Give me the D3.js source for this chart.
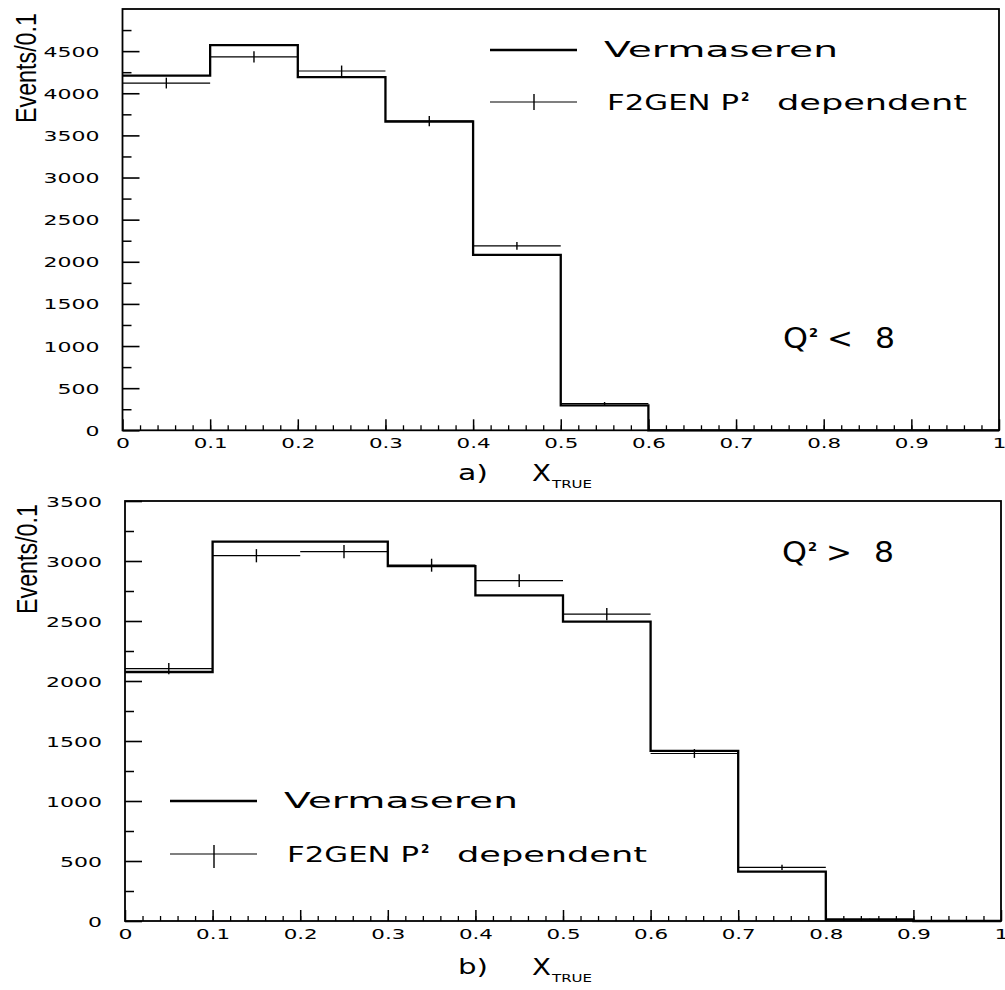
<!DOCTYPE html>
<html><head><meta charset="utf-8">
<script src="https://cdn.jsdelivr.net/npm/d3@7/dist/d3.min.js"></script>
<style>body{margin:0;background:#fff}svg{display:block}</style>
</head><body>
<svg id="chart" width="1005" height="990"></svg>
<script>
// ---------- data ----------
const binEdges = [0, 0.1, 0.2, 0.3, 0.4, 0.5, 0.6, 0.7, 0.8, 0.9, 1.0];
const xTickValues = [0, 0.1, 0.2, 0.3, 0.4, 0.5, 0.6, 0.7, 0.8, 0.9, 1.0];
const xTickLabels = ["0", "0.1", "0.2", "0.3", "0.4", "0.5", "0.6", "0.7", "0.8", "0.9", "1"];
const topYTicks = [0, 500, 1000, 1500, 2000, 2500, 3000, 3500, 4000, 4500];
const botYTicks = [0, 500, 1000, 1500, 2000, 2500, 3000, 3500];

// panel a) Q^2 < 8
const topVerm  = [4210, 4572, 4192, 3665, 2082, 295, 0, 0, 0, 0];
const topF2    = [4121, 4433, 4264, 3670, 2189, 318, 0, 0, 0, 0];
const topF2Err = [64, 67, 65, 61, 47, 18, 0, 0, 0, 0];

// panel b) Q^2 > 8
const botVerm  = [2075, 3161, 3161, 2958, 2714, 2494, 1417, 411, 12, 0];
const botF2    = [2103, 3044, 3078, 2965, 2836, 2558, 1396, 447, 15, 0];
const botF2Err = [46, 55, 55, 54, 53, 51, 37, 21, 4, 0];

const legendLabels = ["Vermaseren", "F2GEN P", "2", "dependent"];

// ---------- drawing ----------
const svg = d3.select("#chart");
const NUMFONT = "'DejaVu Sans', sans-serif";

function numLen(s) {
  let n = 0;
  for (const c of s) n += (c === ".") ? 6 : 14;
  return n;
}

function panel(cfg) {
  const g = svg.append("g");
  const x = d3.scaleLinear().domain([0, 1]).range([cfg.x0, cfg.x1]);
  const y = d3.scaleLinear().domain([0, cfg.ymax]).range([cfg.y0, cfg.y1]);

  // minor y ticks
  g.append("g").attr("transform", `translate(${cfg.x0},0)`)
    .call(d3.axisLeft(y).tickValues(d3.range(250, cfg.ymax, 500)).tickSizeInner(-9).tickSizeOuter(0).tickFormat(""))
    .call(a => a.select(".domain").remove())
    .selectAll("line").attr("stroke", "#000").attr("stroke-width", 1.5);
  // major y ticks
  g.append("g").attr("transform", `translate(${cfg.x0},0)`)
    .call(d3.axisLeft(y).tickValues(cfg.yTicks).tickSizeInner(-17).tickSizeOuter(0).tickPadding(23).tickFormat(d3.format("d")))
    .call(a => a.select(".domain").remove())
    .call(a => a.selectAll("line").attr("stroke", "#000").attr("stroke-width", 1.6))
    .call(a => a.selectAll("text")
      .attr("font-family", NUMFONT).attr("font-size", 14).attr("fill", "#000")
      .attr("dy", "0.36em")
      .attr("textLength", d => numLen(String(d)))
      .attr("lengthAdjust", "spacingAndGlyphs"));

  // minor x ticks
  g.append("g").attr("transform", `translate(0,${cfg.y0})`)
    .call(d3.axisBottom(x).tickValues(d3.range(0.02, 1, 0.02)).tickSizeInner(-5).tickSizeOuter(0).tickFormat(""))
    .call(a => a.select(".domain").remove())
    .selectAll("line").attr("stroke", "#000").attr("stroke-width", 1.3);
  // major x ticks
  g.append("g").attr("transform", `translate(0,${cfg.y0})`)
    .call(d3.axisBottom(x).tickValues(xTickValues).tickSizeInner(-11).tickSizeOuter(0).tickPadding(8)
      .tickFormat((d, i) => xTickLabels[i]))
    .call(a => a.select(".domain").remove())
    .call(a => a.selectAll("line").attr("stroke", "#000").attr("stroke-width", 1.5))
    .call(a => a.selectAll("text")
      .attr("font-family", NUMFONT).attr("font-size", 14).attr("fill", "#000")
      .attr("textLength", (d, i) => numLen(xTickLabels[i]))
      .attr("lengthAdjust", "spacingAndGlyphs"));

  // frame
  g.append("rect")
    .attr("x", cfg.x0).attr("y", cfg.y1)
    .attr("width", cfg.x1 - cfg.x0).attr("height", cfg.y0 - cfg.y1)
    .attr("fill", "none").attr("stroke", "#000").attr("stroke-width", 1.8);

  // Vermaseren histogram (thick step outline)
  const pts = [];
  cfg.verm.forEach((v, i) => { pts.push([binEdges[i], v]); pts.push([binEdges[i + 1], v]); });
  g.append("path")
    .attr("d", d3.line().x(d => x(d[0])).y(d => y(d[1]))(pts))
    .attr("fill", "none").attr("stroke", "#000").attr("stroke-width", 2.3);

  // F2GEN histogram: horizontal bars + error bars
  const bins = cfg.f2.map((v, i) => ({ lo: binEdges[i], hi: binEdges[i + 1], v, e: cfg.err[i] })).filter(d => d.v > 0);
  g.selectAll(".f2h").data(bins).join("line")
    .attr("x1", d => x(d.lo)).attr("x2", d => x(d.hi))
    .attr("y1", d => y(d.v)).attr("y2", d => y(d.v))
    .attr("stroke", "#000").attr("stroke-width", 1.2);
  g.selectAll(".f2e").data(bins.filter(d => d.e > 0)).join("line")
    .attr("x1", d => x((d.lo + d.hi) / 2)).attr("x2", d => x((d.lo + d.hi) / 2))
    .attr("y1", d => y(d.v - d.e)).attr("y2", d => y(d.v + d.e))
    .attr("stroke", "#000").attr("stroke-width", 1.4);

  // y title (condensed by a horizontal scale so its box stays inside the page)
  const yt = g.append("text")
    .attr("text-anchor", "middle")
    .attr("font-family", "'Liberation Sans Narrow', 'Liberation Sans', Arial, sans-serif")
    .attr("font-size", 29).attr("fill", "#000")
    .text("Events/0.1");
  const natural = yt.node().getComputedTextLength() || 150;
  const k = 110 / natural;
  yt.attr("transform", `translate(${cfg.ytx},${cfg.yty}) rotate(-90) scale(${k},1)`);

  // x title "a)  X_TRUE"
  const tf = NUMFONT;
  g.append("text").attr("x", 458).attr("y", cfg.xtBase).attr("font-family", tf).attr("font-size", 22)
    .attr("textLength", 30).attr("lengthAdjust", "spacingAndGlyphs").text(cfg.tag);
  g.append("text").attr("x", 532).attr("y", cfg.xtBase + 1).attr("font-family", tf).attr("font-size", 23)
    .attr("textLength", 19).attr("lengthAdjust", "spacingAndGlyphs").text("X");
  g.append("text").attr("x", 552).attr("y", cfg.xtBase + 8).attr("font-family", tf).attr("font-size", 11)
    .attr("textLength", 40).attr("lengthAdjust", "spacingAndGlyphs").text("TRUE");

  // Q^2 label
  const q = cfg.q;
  g.append("text").attr("x", q.x).attr("y", q.base).attr("font-family", tf).attr("font-size", 28)
    .attr("textLength", 25).attr("lengthAdjust", "spacingAndGlyphs").text("Q");
  g.append("text").attr("x", q.x + 26).attr("y", q.base - 11).attr("font-family", tf).attr("font-size", 13)
    .attr("font-weight", "bold").text("2");
  g.append("text").attr("x", q.x + 44).attr("y", q.base).attr("font-family", tf).attr("font-size", 28)
    .attr("textLength", 26).attr("lengthAdjust", "spacingAndGlyphs").text(q.sym);
  g.append("text").attr("x", q.x + 92).attr("y", q.base).attr("font-family", tf).attr("font-size", 28)
    .attr("textLength", 20).attr("lengthAdjust", "spacingAndGlyphs").text("8");

  // legend
  const L = cfg.leg;
  g.append("line").attr("x1", L.x).attr("x2", L.x + 87).attr("y1", L.y1).attr("y2", L.y1)
    .attr("stroke", "#000").attr("stroke-width", 2.3);
  g.append("text").attr("x", L.x + 114).attr("y", L.y1 + 7).attr("font-family", tf).attr("font-size", 22)
    .attr("textLength", 234).attr("lengthAdjust", "spacingAndGlyphs").text(legendLabels[0]);
  g.append("line").attr("x1", L.x).attr("x2", L.x + 87).attr("y1", L.y2).attr("y2", L.y2)
    .attr("stroke", "#000").attr("stroke-width", 1.2);
  g.append("line").attr("x1", L.x + 44).attr("x2", L.x + 44).attr("y1", L.y2 - L.et).attr("y2", L.y2 + L.eb)
    .attr("stroke", "#000").attr("stroke-width", 1.4);
  g.append("text").attr("x", L.x + 117).attr("y", L.y2 + 8).attr("font-family", tf).attr("font-size", 22)
    .attr("textLength", 132).attr("lengthAdjust", "spacingAndGlyphs").text(legendLabels[1]);
  g.append("text").attr("x", L.x + 251).attr("y", L.y2 - 1).attr("font-family", tf).attr("font-size", 12)
    .attr("font-weight", "bold").text(legendLabels[2]);
  g.append("text").attr("x", L.x + 287).attr("y", L.y2 + 8).attr("font-family", tf).attr("font-size", 22)
    .attr("textLength", 190).attr("lengthAdjust", "spacingAndGlyphs").text(legendLabels[3]);
}

panel({
  x0: 122.5, x1: 999, y0: 430.3, y1: 9, ymax: 5000, yTicks: topYTicks,
  verm: topVerm, f2: topF2, err: topF2Err,
  ytx: 36, yty: 68, xtBase: 480, tag: "a)",
  q: { x: 783, base: 348, sym: "<" },
  leg: { x: 490, y1: 50, y2: 102, et: 8, eb: 8 }
});
panel({
  x0: 125, x1: 1001, y0: 921, y1: 501, ymax: 3500, yTicks: botYTicks,
  verm: botVerm, f2: botF2, err: botF2Err,
  ytx: 37, yty: 559, xtBase: 974, tag: "b)",
  q: { x: 782, base: 562, sym: ">" },
  leg: { x: 170, y1: 801, y2: 854, et: 9, eb: 14 }
});
</script>
</body></html>
